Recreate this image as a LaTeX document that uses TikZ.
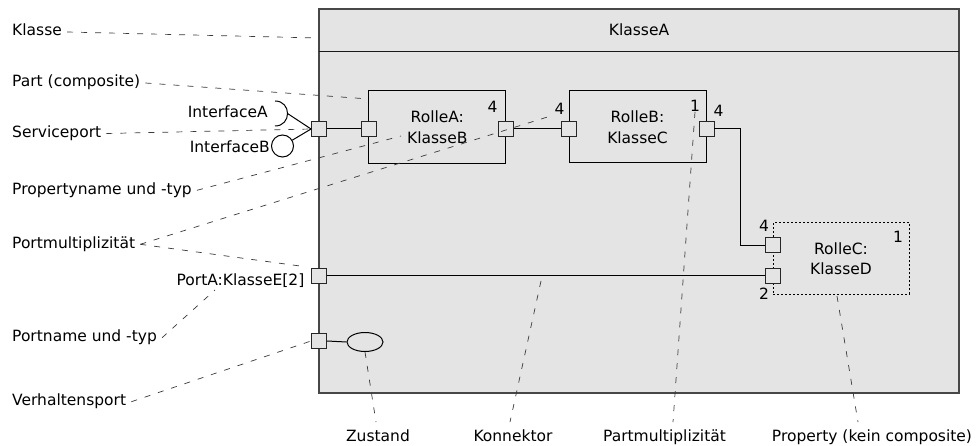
\documentclass[tikz,border=0pt]{standalone}
\usepackage{fontspec}
\setmainfont{DejaVu Sans}
\usetikzlibrary{shapes.geometric}
\definecolor{boxfill}{HTML}{E4E4E4}
\definecolor{edgec}{HTML}{474747}
\definecolor{leadc}{HTML}{3A3A3A}
\begin{document}
\begin{tikzpicture}[x=1pt,y=-1pt,
  every node/.style={font=\fontsize{15.5}{21}\selectfont, text=black},
  lbl/.style={anchor=west, inner sep=5pt, text height=12pt, text depth=4pt},
  blbl/.style={anchor=center, inner sep=5pt, text height=12pt, text depth=4pt},
  rlbl/.style={anchor=east, inner sep=0pt, text height=12pt, text depth=4pt},
  mult/.style={inner sep=0pt},
  port/.style={draw=black!85, fill=boxfill, minimum size=15pt, inner sep=0pt, line width=0.9pt},
  partbox/.style={draw=black, line width=1pt, fill=boxfill, minimum width=137pt, minimum height=73pt, inner sep=0pt, align=center},
  propbox/.style={draw=black, line width=1pt, dash pattern=on 2pt off 2pt, minimum width=136pt, minimum height=71.5pt, inner sep=0pt, align=center, font=\fontsize{15.5}{20}\selectfont},
  leader/.style={draw=leadc, dash pattern=on 6pt off 8pt, line width=0.7pt},
  wire/.style={draw=black, line width=1pt},
  ]
\useasboundingbox (0,0) rectangle (976,446);
\fill[white] (0,0) rectangle (976,446);

% main class
\node[draw=edgec, fill=boxfill, line width=1.3pt, minimum width=640pt, minimum height=384pt, inner sep=0pt] (main) at (639,201) {};
\coordinate (hl) at (319,52);
\coordinate (hr) at (959,52);
\draw[line width=1pt, black!90] (hl) -- (hr);
\node[lbl, anchor=center, inner sep=0pt] (title) at (639,32) {KlasseA};

% parts
\node[partbox] (rA) at (437.3,127.5) {RolleA:\\KlasseB};
\node[partbox, minimum height=72pt] (rB) at (637.5,127) {RolleB:\\KlasseC};
\node[propbox] (rC) at (841,258.5) {RolleC:\\KlasseD};

% ports
\node[port] (sp)  at (319,129) {};
\node[port] (pA1) at (369,129) {};
\node[port] (pA2) at (506,129) {};
\node[port] (pB1) at (569,129) {};
\node[port] (pB2) at (706.5,129) {};
\node[port] (pC1) at (773,245) {};
\node[port] (pC2) at (773,275.5) {};
\node[port] (pPA) at (319,275.5) {};
\node[port] (pV)  at (319,341) {};

% state ellipse
\node[ellipse, draw=black, line width=1pt, minimum width=36pt, minimum height=19pt, inner sep=0pt] (zst) at (365,342) {};

% connectors
\coordinate (bend) at (740,187);
\draw[wire] (sp.east) -- (pA1.west);
\draw[wire] (pA2.east) -- (pB1.west);
\draw[wire] (pB2.east) -| (bend) |- (pC1.west);
\draw[wire] (pPA.east) -- (pC2.west);
\draw[wire] (pV.east) -- (zst.west);

% interfaces
\coordinate (sockTop) at (275,101);
\coordinate (sockBot) at (275,126);
\coordinate (sockTip) at (287.5,113.5);
\draw[wire] (sockTop) .. controls (291.7,101) and (291.7,126) .. (sockBot);
\draw[wire] (sockTip) -- (sp.west);
\node[circle, draw=black, line width=1pt, minimum size=22pt, inner sep=0pt] (ball) at (282.5,146) {};
\draw[wire] (ball) -- (sp.west);
\node[rlbl] (iA) at (268,113.3) {InterfaceA};
\node[rlbl] (iB) at (270,148.3) {InterfaceB};
\node[rlbl] (lPortA) at (304.5,281) {PortA:KlasseE[2]};

% multiplicities
\node[mult] (mA)  at (492.5,106.7) {4};
\node[mult] (mB1) at (559.5,109) {4};
\node[mult] (mB2) at (695,106) {1};
\node[mult] (mB3) at (718.5,111) {4};
\node[mult] (mC1) at (764,226) {4};
\node[mult] (mC2) at (898,237) {1};
\node[mult] (mC3) at (764,293.5) {2};

% left labels
\node[lbl] (lKlasse) at (7,32) {Klasse};
\node[lbl] (lPart) at (7,83) {Part (composite)};
\node[lbl] (lSP) at (7,133.5) {Serviceport};
\node[lbl] (lProp) at (7,190.3) {Propertyname und -typ};
\node[lbl] (lPM) at (7,244.3) {Portmultiplizität};
\node[lbl] (lPN) at (7,337.7) {Portname und -typ};
\node[lbl] (lVP) at (7,401.7) {Verhaltensport};

% bottom labels
\node[blbl] (lZ) at (378,437.5) {Zustand};
\node[blbl] (lK) at (513,437.5) {Konnektor};
\node[blbl] (lPm) at (664.5,437.5) {Partmultiplizität};
\node[blbl] (lPr) at (872,437.5) {Property (kein composite)};

% leader end points
\coordinate (eKlasse) at (318,38);
\coordinate (ePart) at (369,99);
\coordinate (eProp) at (401,136);
\coordinate (ePM2) at (300,266);
\coordinate (ePN) at (215,290);
\coordinate (eZ) at (376,422);
\coordinate (kStart) at (541,281);
\coordinate (eK) at (510,422);
\coordinate (ePm) at (673,422);
\coordinate (prStart) at (837,296);
\coordinate (ePr) at (858,422);

% leaders
\draw[leader] (lKlasse.east) -- (eKlasse);
\draw[leader] (lPart.east) -- (ePart);
\draw[leader] (lSP.east) -- (sp.west);
\draw[leader] (lProp.east) -- (eProp);
\draw[leader] (lPM.east) -- (mB1.south west);
\draw[leader] (lPM.east) -- (ePM2);
\draw[leader] (lPN.east) -- (ePN);
\draw[leader] (lVP.east) -- (pV.west);
\draw[leader] (zst.south) -- (eZ);
\draw[leader] (kStart) -- (eK);
\draw[leader] (mB2.south) -- (ePm);
\draw[leader] (prStart) -- (ePr);
\end{tikzpicture}
\end{document}
